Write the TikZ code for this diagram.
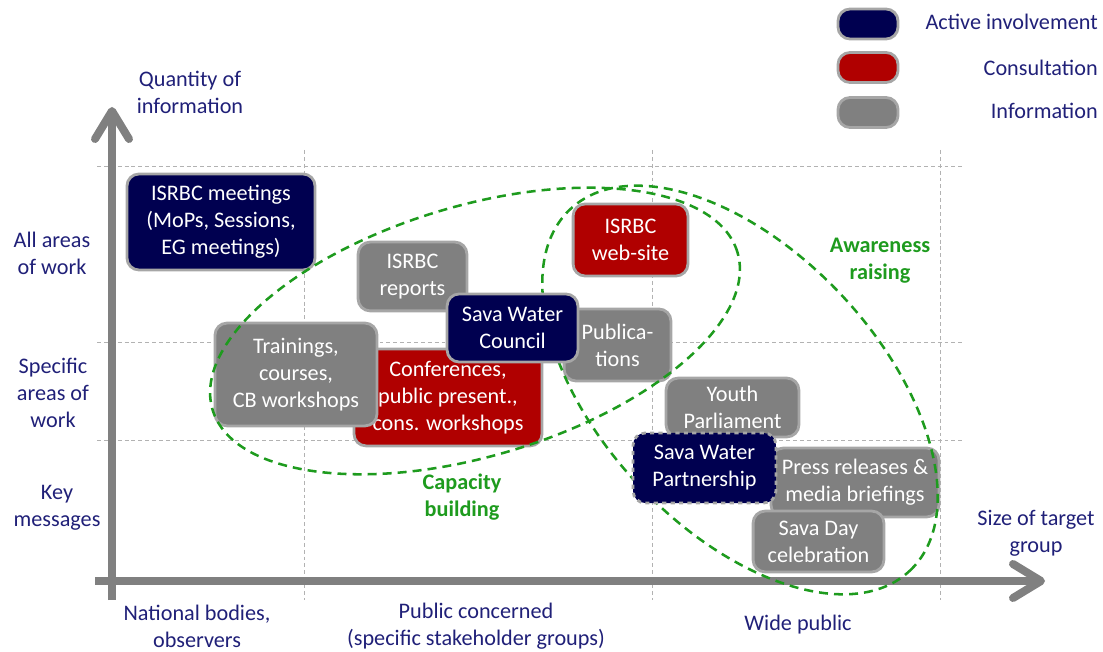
\documentclass[tikz,border=0pt]{standalone}
\usepackage{fontspec}
\setmainfont{Carlito}
\usepackage{tikz}
\usetikzlibrary{arrows.meta,positioning}
\definecolor{boxnavy}{RGB}{0,0,80}
\definecolor{boxred}{RGB}{176,0,0}
\definecolor{boxgray}{RGB}{128,128,128}
\definecolor{boxedge}{RGB}{166,166,166}
\definecolor{labelblue}{RGB}{32,32,120}
\definecolor{ellgreen}{RGB}{30,155,30}
\tikzset{itembox/.style = {rounded corners=0.3cm, draw=boxedge, line width=2pt, text=white, align=center, inner sep=0pt, font=\fontsize{15.8}{19.1}\selectfont}}
\tikzset{active/.style = {itembox, fill=boxnavy}}
\tikzset{consult/.style = {itembox, fill=boxred}}
\tikzset{inform/.style = {itembox, fill=boxgray}}
\tikzset{axislabel/.style = {text=labelblue, align=center, inner sep=0pt, font=\fontsize{15.8}{19.1}\selectfont}}
\tikzset{axisline/.style = {line width=0.2cm, draw=boxgray, -{Straight Barb[length=0.7cm,width=0.85cm,round]}}}
\tikzset{gridline/.style = {draw=gray!60, dash pattern=on 2.8pt off 2.1pt, line width=0.7pt}}
\tikzset{arealine/.style = {draw=ellgreen, dash pattern=on 6.4pt off 4.3pt, line width=1.8pt}}
\tikzset{arealabel/.style = {text=ellgreen, align=center, inner sep=0pt, font=\bfseries\fontsize{15.8}{19.1}\selectfont}}

\begin{document}
\begin{tikzpicture}[x=0.025cm,y=0.025cm]
\useasboundingbox (0,0) rectangle (1103,651);

% grid
\draw[gridline] (97,485) -- (965,485);
\draw[gridline] (97,309) -- (965,309);
\draw[gridline] (97,211) -- (965,211);
\draw[gridline] (304,501) -- (304,51);
\draw[gridline] (652,501) -- (652,51);
\draw[gridline] (940,501) -- (940,51);

% axes
\coordinate (ybottom) at (112,51);
\coordinate (ytip) at (112,544);
\coordinate (xleft) at (95,70);
\coordinate (xtip) at (1045,70);
\draw[axisline] (ybottom) -- (ytip);
\draw[axisline] (xleft) -- (xtip);

\node[axislabel] (quantity) at (190,559) {Quantity of\\information};
\node[axislabel] (allareas) at (52,398) {All areas\\of work};
\node[axislabel] (specific) at (53,258) {Specific\\areas of\\work};
\node[axislabel] (keymsg) at (57,143) {Key\\messages};
\node[axislabel] (national) at (197,25) {National bodies,\\observers};
\node[axislabel] (concerned) at (476,25) {Public concerned\\(specific stakeholder groups)};
\node[axislabel] (widepublic) at (798,26) {Wide public};
\node[axislabel] (targetsize) at (1036,118) {Size of target\\group};

% legend
\node[active, minimum width=1.5cm, minimum height=0.75cm] (keyactive) at (868,627) {};
\node[consult, minimum width=1.5cm, minimum height=0.75cm] (keyconsult) at (868,583.5) {};
\node[inform, minimum width=1.5cm, minimum height=0.75cm] (keyinform) at (868,538.5) {};
\node[axislabel, anchor=east] (txtactive) at (1098,629) {Active involvement};
\node[axislabel, anchor=east] (txtconsult) at (1098,583) {Consultation};
\node[axislabel, anchor=east] (txtinform) at (1098,540) {Information};

% activities
\node[active, minimum width=4.7cm, minimum height=2.4cm] (meetings) at (221,429) {ISRBC meetings\\(MoPs, Sessions,\\EG meetings)};
\node[inform, minimum width=2.72cm, minimum height=1.72cm] (reports) at (412.5,374.5) {ISRBC\\reports};
\node[consult, minimum width=2.87cm, minimum height=1.8cm] (website) at (630.5,411) {ISRBC\\web-site};
\node[consult, minimum width=4.7cm, minimum height=2.42cm] (conferences) at (448,253.5) {Conferences,\\public present.,\\cons. workshops};
\node[inform, minimum width=4.05cm, minimum height=2.57cm] (trainings) at (296,276.5) {Trainings,\\courses,\\CB workshops};
\node[inform, minimum width=2.67cm, minimum height=1.8cm] (publications) at (617.5,306) {Publica-\\tions};
\node[inform, minimum width=3.32cm, minimum height=1.47cm] (youth) at (732.5,243.5) {Youth\\Parliament};
\node[inform, minimum width=4.2cm, minimum height=1.72cm] (press) at (855,168.5) {Press releases \&\\media briefings};
\node[inform, minimum width=3.27cm, minimum height=1.52cm] (savaday) at (818.5,109.5) {Sava Day\\celebration};

% target areas
\draw[arealine, rotate around={16.7:(475,320)}] (475,320) ellipse [x radius=274, y radius=125];
\draw[arealine, rotate around={-46.8:(740,261)}] (740,261) ellipse [x radius=248, y radius=139];
\node[arealabel] (capacity) at (462,154) {Capacity\\building};
\node[arealabel] (awareness) at (880,390) {Awareness\\raising};

\node[active, minimum width=3.27cm, minimum height=1.7cm] (council) at (512.5,323) {Sava Water\\Council};
\node[active, dashed, minimum width=3.57cm, minimum height=1.75cm] (partnership) at (704.5,183) {Sava Water\\Partnership};
\end{tikzpicture}
\end{document}
